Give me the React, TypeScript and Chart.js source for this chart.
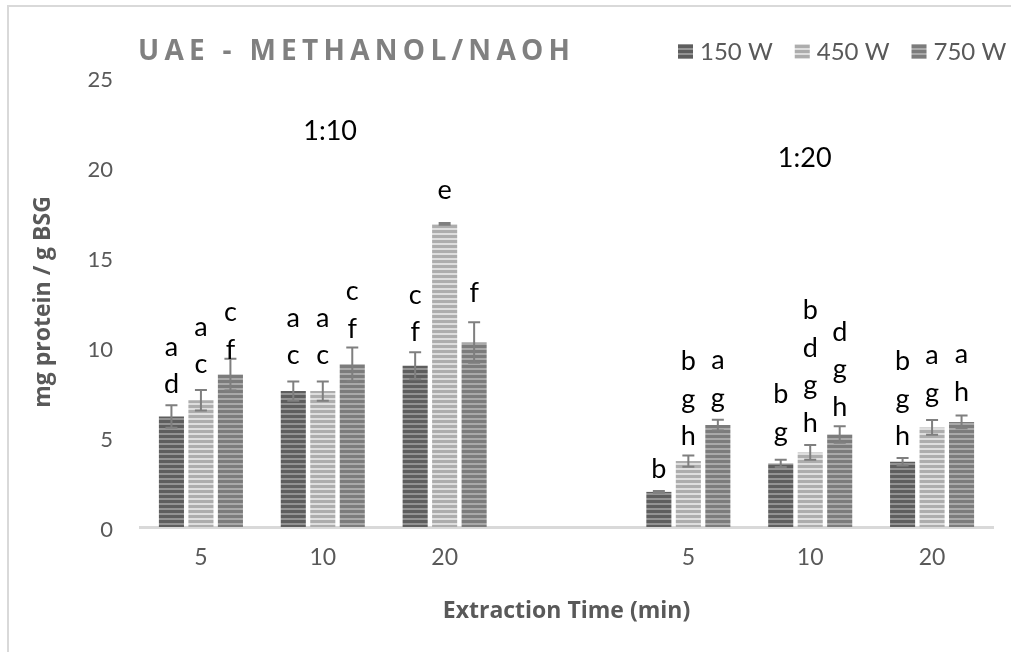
import React, { useEffect, useRef } from 'react';
import { Chart, registerables } from 'chart.js';

Chart.register(...registerables);

const categories = ['5', '10', '20', '', '5', '10', '20'];
const seriesNames = ['150 W', '450 W', '750 W'];
const yTicks = [0, 5, 10, 15, 20, 25];

const values150 = [6.14, 7.55, 8.96, null, 1.95, 3.53, 3.63];
const values450 = [7.04, 7.55, 16.84, null, 3.66, 4.14, 5.53];
const values750 = [8.47, 9.04, 10.25, null, 5.66, 5.14, 5.84];

const errors150 = [0.63, 0.53, 0.75, null, 0.05, 0.2, 0.21];
const errors450 = [0.57, 0.53, 0.05, null, 0.31, 0.41, 0.41];
const errors750 = [0.88, 0.93, 1.13, null, 0.3, 0.46, 0.35];

const letters150 = [['a', 'd'], ['a', 'c'], ['c', 'f'], [], ['b'], ['b', 'g'], ['b', 'g', 'h']];
const letters450 = [['a', 'c'], ['a', 'c'], ['e'], [], ['b', 'g', 'h'], ['b', 'd', 'g', 'h'], ['a', 'g']];
const letters750 = [['c', 'f'], ['c', 'f'], ['f'], [], ['a', 'g'], ['d', 'g', 'h'], ['a', 'h']];

// baseline (in data units) of the lowest letter of each stack
const letterBase150 = [7.43, 9.03, 10.32, null, 2.73, 4.77, 4.53];
const letterBase450 = [8.54, 9.03, 18.25, null, 4.53, 5.27, 6.94];
const letterBase750 = [9.34, 10.51, 12.49, null, 6.66, 6.16, 6.99];

const groupLabels = ['1:10', '1:20'];
const groupLabelX = [1.06, 4.955];
const groupLabelY = [22.0, 20.5];

const titleText = 'UAE - METHANOL/NAOH';
const xTitle = 'Extraction Time (min)';
const yTitle = 'mg protein / g BSG';

const seriesValues = [values150, values450, values750];
const seriesErrors = [errors150, errors450, errors750];
const seriesLetters = [letters150, letters450, letters750];
const seriesLetterBase = [letterBase150, letterBase450, letterBase750];
const stripeColors = [
  ['#5e5e5e', '#939393'],
  ['#adadad', '#dedede'],
  ['#7c7c7c', '#a9a9a9'],
];

function makePattern(dark: string, light: string): CanvasPattern | string {
  const c = document.createElement('canvas');
  c.width = 8;
  c.height = 5;
  const g = c.getContext('2d');
  if (!g) return dark;
  g.fillStyle = light;
  g.fillRect(0, 0, 8, 5);
  g.fillStyle = dark;
  g.fillRect(0, 0, 8, 3);
  return g.createPattern(c, 'repeat') || dark;
}

const overlayPlugin = {
  id: 'overlay',
  beforeDraw(chart: any) {
    const ctx = chart.ctx;
    ctx.save();
    ctx.fillStyle = '#ffffff';
    ctx.fillRect(0, 0, chart.width, chart.height);
    ctx.fillStyle = '#d9d9d9';
    ctx.fillRect(7, 5, chart.width - 7, 2);
    ctx.fillRect(7, 5, 2, chart.height - 5);
    ctx.restore();
  },
  afterDatasetsDraw(chart: any) {
    const ctx = chart.ctx;
    const y = chart.scales.y;
    ctx.save();
    chart.data.datasets.forEach((ds: any, di: number) => {
      const meta = chart.getDatasetMeta(di);
      meta.data.forEach((bar: any, i: number) => {
        const v = seriesValues[di][i];
        const e = seriesErrors[di][i];
        if (v == null || e == null) return;
        const yt = y.getPixelForValue(v + e);
        const yb = y.getPixelForValue(v - e);
        const x = bar.x;
        ctx.strokeStyle = '#7f7f7f';
        ctx.lineWidth = 2;
        ctx.beginPath();
        ctx.moveTo(x, yt);
        ctx.lineTo(x, yb);
        ctx.moveTo(x - 6, yt);
        ctx.lineTo(x + 6, yt);
        ctx.moveTo(x - 6, yb);
        ctx.lineTo(x + 6, yb);
        ctx.stroke();
      });
    });
    ctx.restore();
  },
  afterDraw(chart: any) {
    const ctx = chart.ctx;
    const x = chart.scales.x;
    const y = chart.scales.y;
    ctx.save();

    // letters above bars
    ctx.fillStyle = '#000000';
    ctx.font = '27px Lato';
    ctx.textAlign = 'center';
    ctx.textBaseline = 'alphabetic';
    chart.data.datasets.forEach((ds: any, di: number) => {
      const meta = chart.getDatasetMeta(di);
      meta.data.forEach((bar: any, i: number) => {
        const lines = seriesLetters[di][i];
        const base = seriesLetterBase[di][i];
        if (!lines.length || base == null) return;
        const by = y.getPixelForValue(base);
        for (let k = 0; k < lines.length; k++) {
          const txt = lines[lines.length - 1 - k];
          ctx.fillText(txt, bar.x, by - k * 37.7);
        }
      });
    });

    // group labels
    ctx.textBaseline = 'middle';
    groupLabels.forEach((t, i) => {
      ctx.fillText(t, x.getPixelForValue(groupLabelX[i]), y.getPixelForValue(groupLabelY[i]));
    });

    // title
    ctx.fillStyle = '#808080';
    ctx.font = 'bold 28px "Open Sans"';
    ctx.textAlign = 'left';
    ctx.textBaseline = 'middle';
    (ctx as any).letterSpacing = '0px';
    const w0 = ctx.measureText(titleText).width;
    const sp = (432 - w0) / (titleText.length - 1);
    (ctx as any).letterSpacing = sp + 'px';
    ctx.fillText(titleText, 138, 52);
    (ctx as any).letterSpacing = '0px';

    // legend
    ctx.font = '24px Lato';
    ctx.textBaseline = 'middle';
    let lx = 678;
    chart.data.datasets.forEach((ds: any, di: number) => {
      ctx.fillStyle = ds.backgroundColor;
      ctx.fillRect(lx, 44, 15, 15);
      ctx.fillStyle = '#595959';
      ctx.fillText(seriesNames[di], lx + 22, 52);
      lx += 22 + ctx.measureText(seriesNames[di]).width + 22;
    });

    ctx.restore();
  },
};

export default function App() {
  const ref = useRef<HTMLCanvasElement | null>(null);
  useEffect(() => {
    if (!ref.current) return;
    const chart = new Chart(ref.current, {
      type: 'bar',
      data: {
        labels: categories,
        datasets: seriesNames.map((name, di) => ({
          label: name,
          data: seriesValues[di],
          backgroundColor: makePattern(stripeColors[di][0], stripeColors[di][1]) as any,
          borderWidth: 0,
          categoryPercentage: 0.726,
          barPercentage: 0.85,
        })),
      },
      options: {
        animation: false,
        responsive: false,
        devicePixelRatio: 1,
        layout: { padding: { top: 77, right: 18, left: 0, bottom: 0 } },
        plugins: {
          legend: { display: false },
          title: { display: false },
          tooltip: { enabled: false },
        },
        scales: {
          x: {
            grid: { display: false, drawTicks: false },
            border: { display: true, color: '#d9d9d9', width: 3 },
            ticks: {
              color: '#595959',
              font: { family: 'Lato', size: 23 },
              padding: 17,
            },
            title: {
              display: true,
              text: xTitle,
              color: '#595959',
              font: { family: 'Open Sans', weight: 'bold', size: 23 },
              padding: { top: 0, bottom: 27 },
            },
            afterFit(scale: any) {
              scale.height = 125;
            },
          },
          y: {
            min: 0,
            max: 25,
            grid: { display: false, drawTicks: false },
            border: { display: false },
            afterBuildTicks(scale: any) {
              scale.ticks = yTicks.map((v) => ({ value: v }));
            },
            ticks: {
              color: '#595959',
              font: { family: 'Lato', size: 22 },
              padding: 27,
              labelOffset: 3,
            },
            title: {
              display: true,
              text: yTitle,
              color: '#595959',
              font: { family: 'Open Sans', weight: 'bold', size: 23 },
              padding: { top: 30, bottom: 0 },
            },
            afterFit(scale: any) {
              scale.width = 140;
            },
          },
        },
      },
      plugins: [overlayPlugin],
    });
    return () => chart.destroy();
  }, []);
  return (
    <div style={{ position: 'fixed', left: 0, top: 0, width: 1011, height: 652, background: '#fff' }}>
      <canvas ref={ref} width={1011} height={652} />
    </div>
  );
}
